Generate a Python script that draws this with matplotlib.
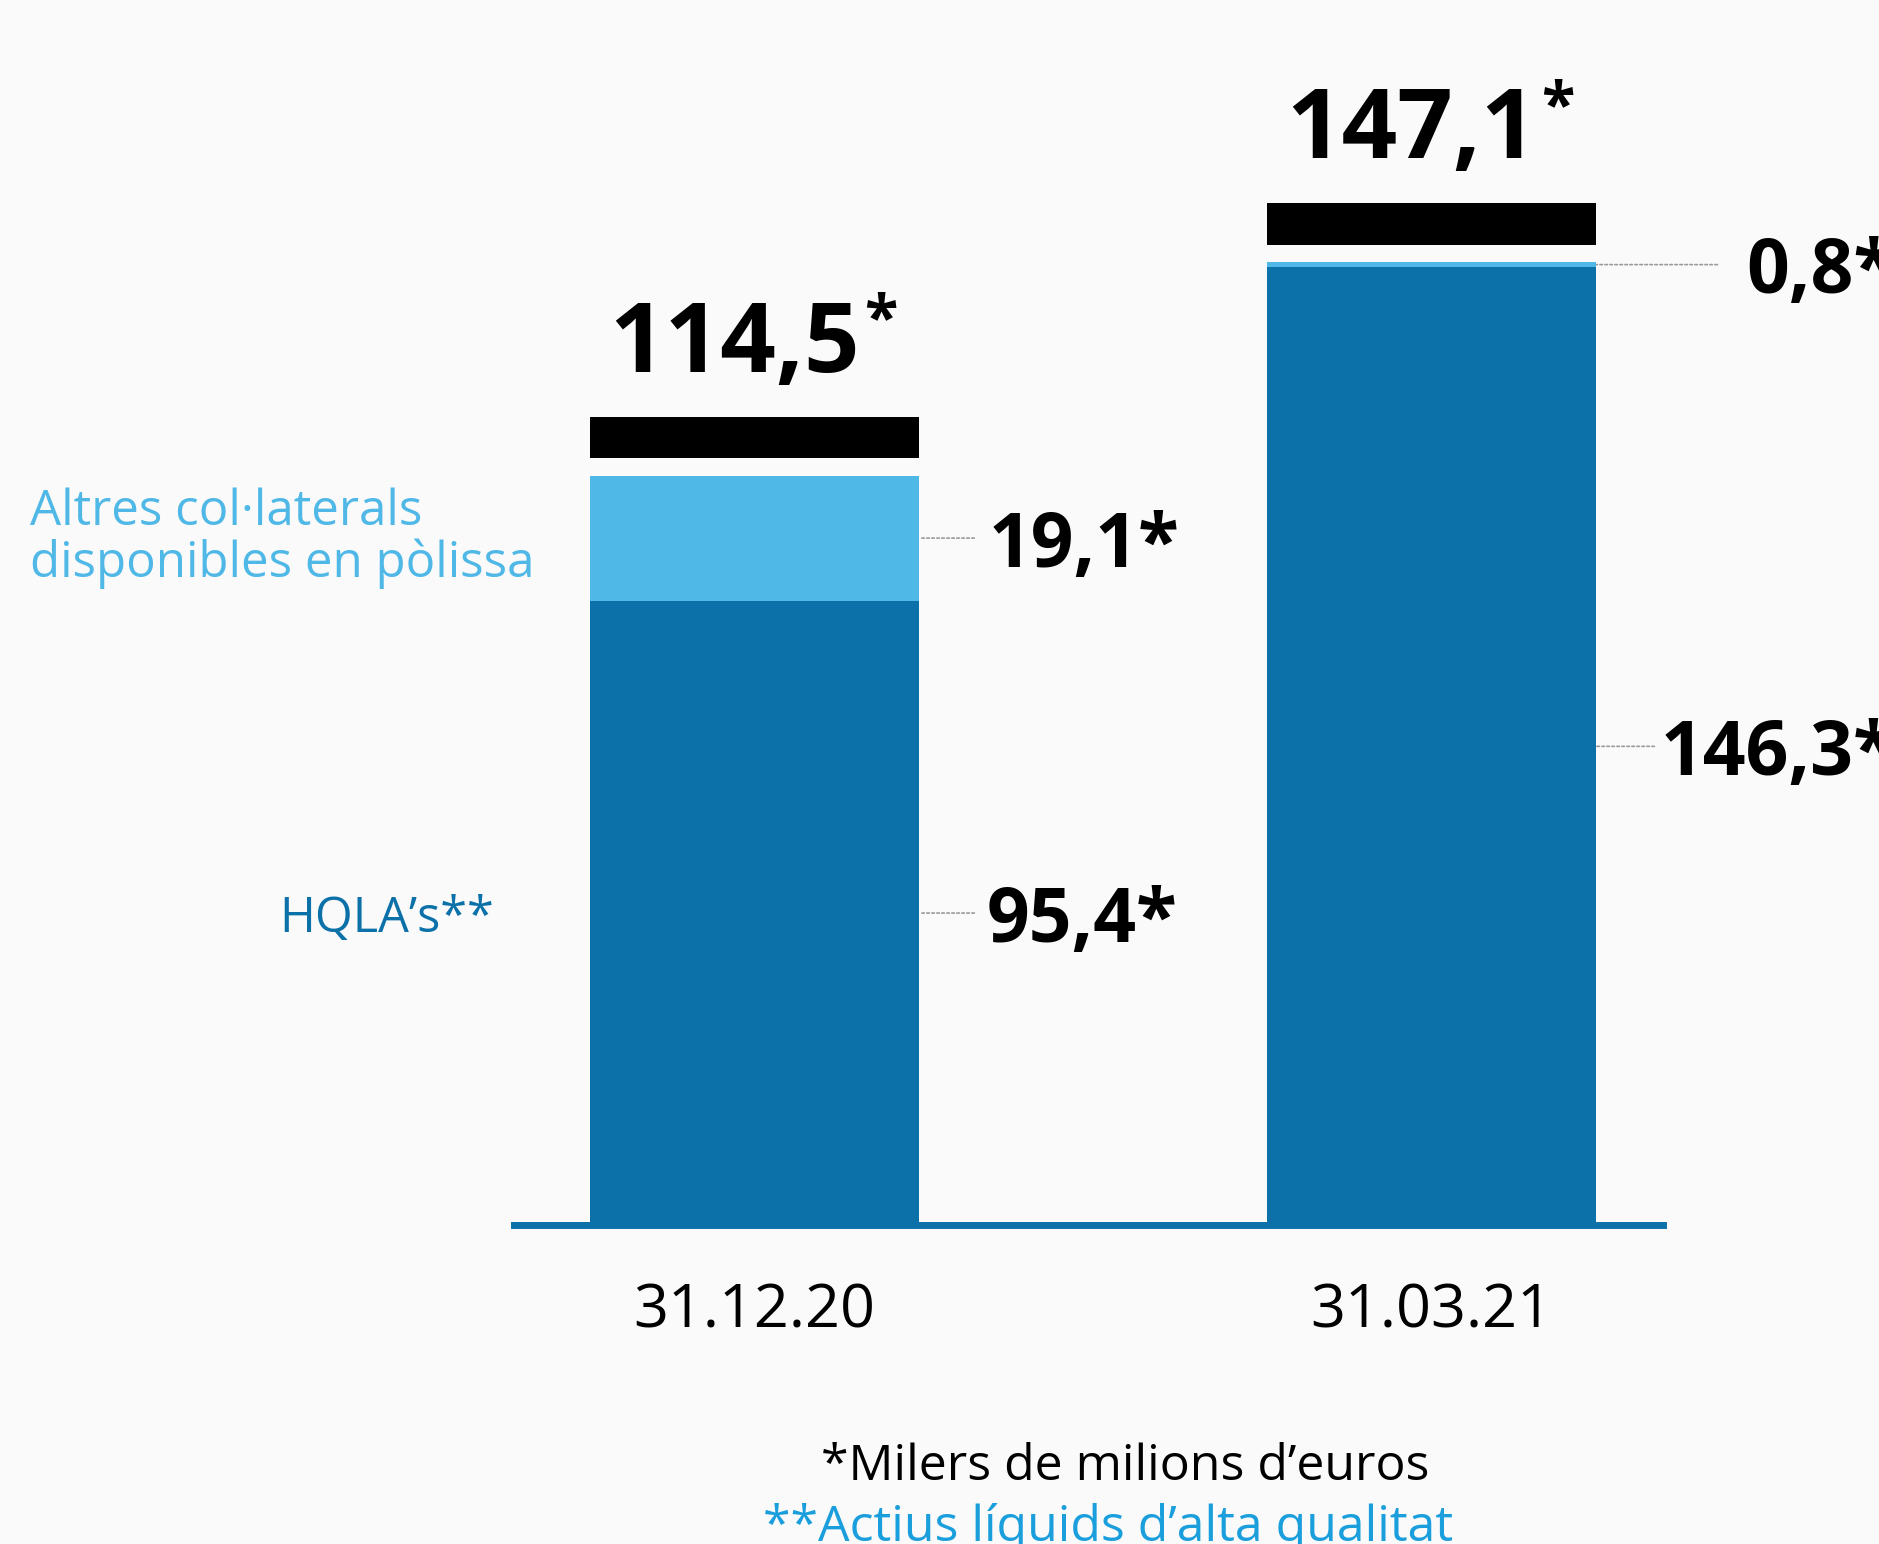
import matplotlib
matplotlib.use('Agg')
from matplotlib import pyplot as plt
import matplotlib.transforms as mtransforms

plt.rcParams['font.family'] = ['Open Sans', 'DejaVu Sans']

dates = ['31.12.20', '31.03.21']
hqla = [95.4, 146.3]
altres = [19.1, 0.8]
totals = [114.5, 147.1]
hqla_labels = ['95,4*', '146,3*']
altres_labels = ['19,1*', '0,8*']
total_labels = ['114,5', '147,1']

dark = '#0b71a8'
light = '#4fb8e7'
bg = '#fafafa'

fig = plt.figure(figsize=(18.79, 15.44), dpi=100, facecolor=bg)
ax = fig.add_axes([0.2736, 0.2063, 0.6115, 0.7937])
ax.set_facecolor(bg)

x = [0, 1]
w = 0.487
ax.bar(x, hqla, width=w, color=dark)
ax.bar(x, altres, width=w, bottom=hqla, color=light)

# black caps above the bars
cap_gap, cap_h = 2.6, 6.4
ax.bar(x, [cap_h, cap_h], width=w, bottom=[t + cap_gap for t in totals], color='black')

ax.set_xlim(-0.355, 1.342)
ax.set_ylim(0, 187.1)

for s in ['top', 'right', 'left']:
    ax.spines[s].set_visible(False)
ax.spines['bottom'].set_color(dark)
ax.spines['bottom'].set_linewidth(5.0)
ax.set_yticks([])
ax.set_xticks(x)
ax.set_xticklabels(dates, fontsize=44)
ax.tick_params(axis='x', length=0, pad=40)

# totals on top with superscript asterisk
for i in range(2):
    t = ax.annotate(total_labels[i], xy=(x[i], totals[i] + cap_gap + cap_h),
                    xytext=(-20, 45), textcoords='offset pixels',
                    ha='center', va='baseline', fontsize=70, fontweight='bold')
    ax.annotate('*', xy=(1, 1), xycoords=t, xytext=(4, 6), textcoords='offset pixels',
                ha='left', va='top', fontsize=44, fontweight='bold')

# segment labels with dotted leaders
line_len = [[55, 55], [58, 121]]
text_off = [[67, 69], [64, 150]]
for i in range(2):
    edge = x[i] + w / 2
    ys = [hqla[i] / 2, hqla[i] + altres[i] / 2]
    labs = [hqla_labels[i], altres_labels[i]]
    for j in range(2):
        ax.annotate('', xy=(edge, ys[j]), xytext=(line_len[i][j], 0),
                    textcoords='offset pixels',
                    arrowprops=dict(arrowstyle='-', linestyle=(0, (1.5, 1.5)), color='#9a9a9a',
                                    lw=1.2, shrinkA=0, shrinkB=0))
        ax.annotate(labs[j], xy=(edge, ys[j]), xytext=(text_off[i][j], 0),
                    textcoords='offset pixels', ha='left', va='center_baseline',
                    fontsize=54, fontweight='bold', annotation_clip=False)

# legend-like labels on the left
trans = mtransforms.blended_transform_factory(fig.transFigure, ax.transData)
ax.text(0.016, hqla[0] + altres[0] / 2, 'Altres col·laterals\ndisponibles en pòlissa',
        transform=trans, ha='left', va='center', fontsize=35.5, color=light, linespacing=1.05)
ax.text(0.1485, hqla[0] / 2, 'HQLA’s**', transform=trans, ha='left', va='center_baseline',
        fontsize=35, color=dark)

fig.text(0.5987, 0.0415, '*Milers de milions d’euros', ha='center', va='baseline',
         fontsize=36, color='black')
fig.text(0.5897, 0.002, '**Actius líquids d’alta qualitat', ha='center', va='baseline',
         fontsize=36, color='#1a9edc')

fig.savefig('out.png', dpi=100, facecolor=bg)
